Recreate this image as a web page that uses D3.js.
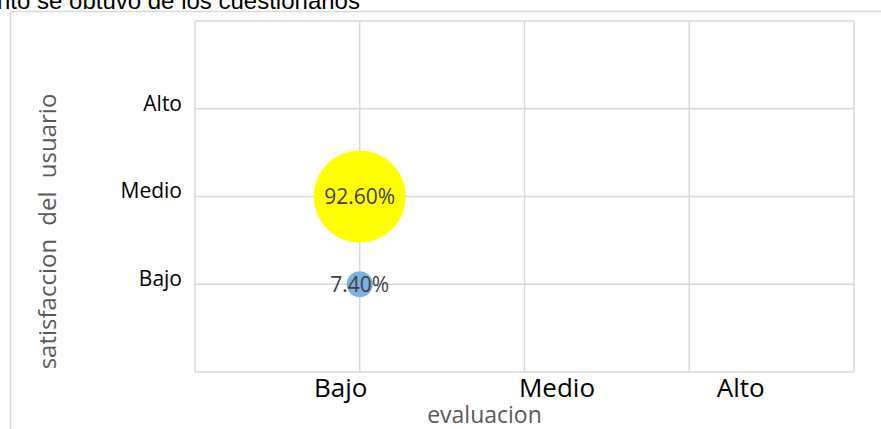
<!DOCTYPE html>
<html>
<head>
<meta charset="utf-8">
<script src="https://cdn.jsdelivr.net/npm/d3@7"></script>
<style>
  body { margin: 0; background: #fff; }
  svg { display: block; }
</style>
</head>
<body>
<svg id="chart" width="881" height="429"></svg>
<script>
// categorias de los ejes
const xCategories = ["Bajo", "Medio", "Alto"];
const yCategories = ["Bajo", "Medio", "Alto"];
// burbujas: posicion en x, posicion en y, tamaño (%)
const bubbleX = [1, 1];
const bubbleY = [2, 1];
const bubbleSize = [92.6, 7.4];
const bubbleLabels = ["92.60%", "7.40%"];
const bubbleColors = ["#ffff00", "#7eb1df"];

const titleText = "nto se obtuvo de los cuestionarios";
const xTitle = "evaluacion";
const yTitle = "satisfaccion del usuario";

const svg = d3.select("#chart");
const plot = { left: 195, right: 854, top: 21, bottom: 372 };
const gridColor = "#d9d9d9";

// titulo cortado arriba
svg.append("text")
    .attr("x", -3)
    .attr("y", 9)
    .style("font-family", "'Liberation Sans', Arial, sans-serif")
    .style("font-size", "24px")
    .attr("fill", "#000")
    .text(titleText);

// borde del area del grafico
svg.append("path")
    .attr("d", "M10.5,429 V11.5 H881")
    .attr("fill", "none")
    .attr("stroke", gridColor)
    .attr("stroke-width", 1.5);

const x = d3.scaleLinear([0, 4], [plot.left, plot.right]);
const y = d3.scaleLinear([0, 4], [plot.bottom, plot.top]);
const r = d3.scaleSqrt([0, d3.max(bubbleSize)], [0, 46]);

// cuadricula
svg.append("g")
    .selectAll("line")
    .data(d3.range(0, 5))
    .join("line")
    .attr("x1", d => x(d)).attr("x2", d => x(d))
    .attr("y1", plot.top).attr("y2", plot.bottom)
    .attr("stroke", gridColor)
    .attr("stroke-width", 1.5);

svg.append("g")
    .selectAll("line")
    .data(d3.range(0, 5))
    .join("line")
    .attr("y1", d => y(d)).attr("y2", d => y(d))
    .attr("x1", plot.left).attr("x2", plot.right)
    .attr("stroke", gridColor)
    .attr("stroke-width", 1.5);

// eje x (etiquetas colocadas a mano en el original)
const xLabelShift = [-19.5, 32, 51];
svg.append("g")
    .attr("transform", `translate(0,${plot.bottom})`)
    .call(d3.axisBottom(x).tickValues([1, 2, 3]).tickFormat((d, i) => xCategories[i]).tickSize(0))
    .call(g => g.select(".domain").remove())
    .call(g => g.selectAll("text")
        .attr("y", 25)
        .attr("dy", 0)
        .attr("dx", (d, i) => xLabelShift[i])
        .attr("fill", "#000")
        .style("font-family", "'Open Sans', sans-serif")
        .style("font-size", "26px"));

// eje y
svg.append("g")
    .attr("transform", `translate(${plot.left},0)`)
    .call(d3.axisLeft(y).tickValues([1, 2, 3]).tickFormat((d, i) => yCategories[i]).tickSize(0).tickPadding(13))
    .call(g => g.select(".domain").remove())
    .call(g => g.selectAll("text")
        .attr("dy", "0.07em")
        .attr("fill", "#000")
        .style("font-family", "'Open Sans', sans-serif")
        .style("font-size", "21px"));

// titulos de ejes
svg.append("text")
    .attr("x", 484.5)
    .attr("y", 423)
    .attr("text-anchor", "middle")
    .attr("fill", "#595959")
    .style("font-family", "'Open Sans', sans-serif")
    .style("font-size", "23px")
    .text(xTitle);

svg.append("text")
    .attr("transform", "translate(56,231.5) rotate(-90)")
    .attr("text-anchor", "middle")
    .attr("fill", "#595959")
    .style("font-family", "'Open Sans', sans-serif")
    .style("font-size", "24px")
    .style("word-spacing", "7px")
    .text(yTitle);

// burbujas
const bubbles = bubbleSize.map((s, i) => ({ x: bubbleX[i], y: bubbleY[i], size: s, label: bubbleLabels[i], color: bubbleColors[i] }));

svg.append("g")
    .selectAll("circle")
    .data(bubbles)
    .join("circle")
    .attr("cx", d => x(d.x))
    .attr("cy", d => y(d.y))
    .attr("r", d => r(d.size))
    .attr("fill", d => d.color);

svg.append("g")
    .selectAll("text")
    .data(bubbles)
    .join("text")
    .attr("x", d => x(d.x))
    .attr("y", d => y(d.y))
    .attr("dy", "0.36em")
    .attr("text-anchor", "middle")
    .attr("fill", "#404040")
    .style("font-family", "'Open Sans', sans-serif")
    .style("font-size", "21px")
    .text(d => d.label);
</script>
</body>
</html>
